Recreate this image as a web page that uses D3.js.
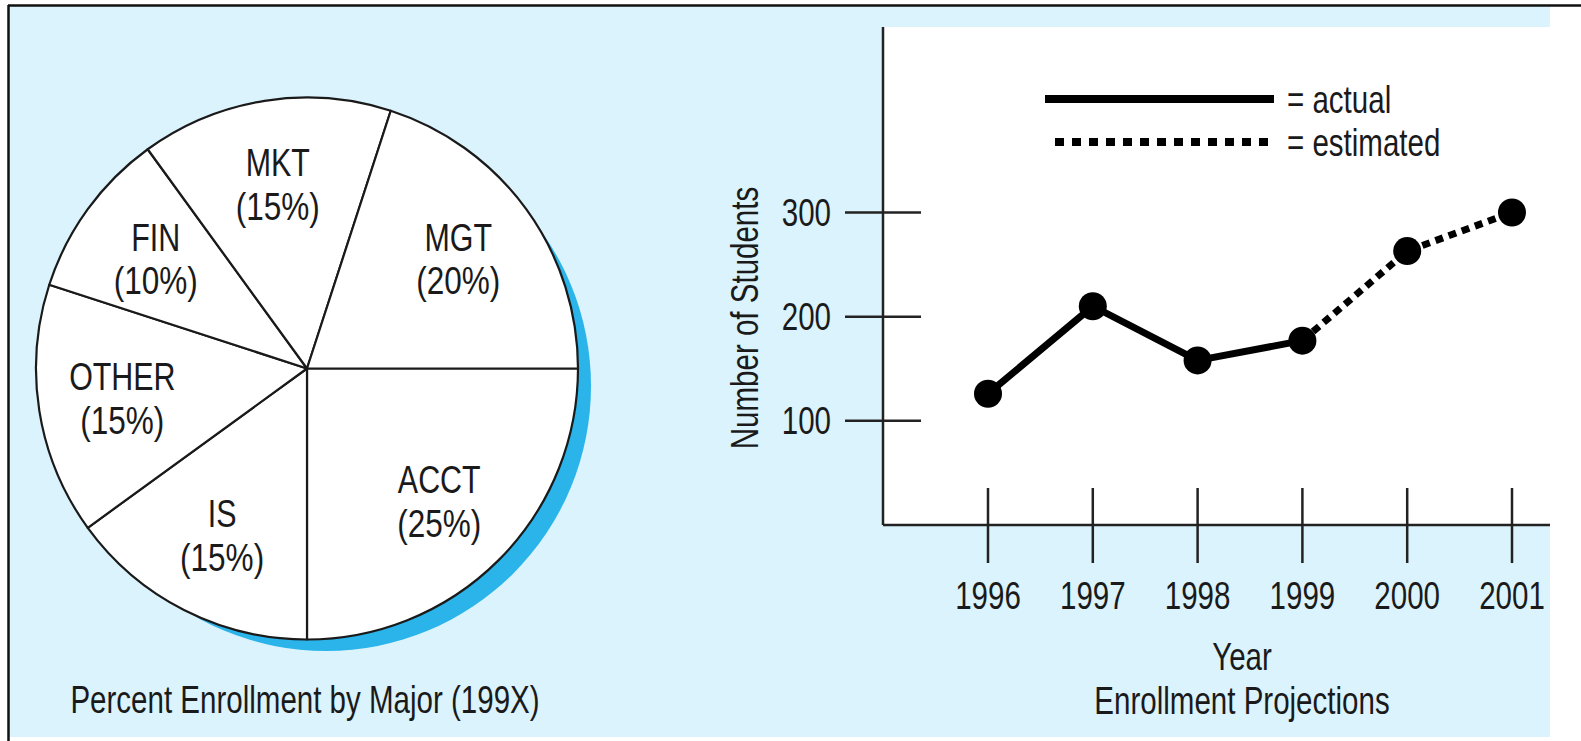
<!DOCTYPE html>
<html>
<head>
<meta charset="utf-8">
<script src="https://cdn.jsdelivr.net/npm/d3@7"></script>
<style>
  html, body { margin: 0; padding: 0; background: #fff; }
  svg text {
    font-family: "Liberation Sans", Arial, sans-serif;
    font-size: 39px;
    fill: #1a1a1a;
  }
  svg text.plabel { font-size: 38px; }
</style>
</head>
<body>
<div id="chart"></div>
<script>
// pie data
var majors = ["ACCT", "IS", "OTHER", "FIN", "MKT", "MGT"];
var shares = [25, 15, 15, 10, 15, 20];

// line chart data
var years = [1996, 1997, 1998, 1999, 2000, 2001];
var students = [126, 210, 158, 177, 263, 300];
var lastActualYear = 1999;
var yTicks = [100, 200, 300];

var width = 1581, height = 741;
var narrow = 0.757; // condensed look: squeeze Liberation Sans horizontally

var svg = d3.select("#chart").append("svg")
  .attr("width", width)
  .attr("height", height);

// places a condensed text whose anchor point is (x, y)
function label(parent, x, y, txt, anchor, rot, sx) {
  return parent.append("text")
    .attr("transform", "translate(" + x + "," + y + ")" + (rot ? "rotate(" + rot + ")" : "") + "scale(" + (sx || narrow) + ",1)")
    .attr("dy", "0.35em")
    .attr("text-anchor", anchor || "middle")
    .text(txt);
}

// background panel + frame
svg.append("rect")
  .attr("x", 9).attr("y", 6)
  .attr("width", 1541).attr("height", 731)
  .attr("fill", "#dbf3fc");

svg.append("line")
  .attr("x1", 8).attr("x2", width)
  .attr("y1", 5.5).attr("y2", 5.5)
  .attr("stroke", "#111").attr("stroke-width", 2.5);
svg.append("line")
  .attr("x1", 8.5).attr("x2", 8.5)
  .attr("y1", 5).attr("y2", height)
  .attr("stroke", "#111").attr("stroke-width", 2.5);

// ---------- pie ----------
var cx = 307, cy = 368.5, R = 271;

var pie = d3.pie()
  .sort(null)
  .startAngle(Math.PI / 2)
  .endAngle(Math.PI / 2 + 2 * Math.PI);

var arc = d3.arc().innerRadius(0).outerRadius(R);
var labelArc = d3.arc().innerRadius(R * 0.69).outerRadius(R * 0.69);

var pieG = svg.append("g")
  .attr("transform", "translate(" + cx + "," + cy + ")");

// blue crescent shadow
pieG.append("circle")
  .attr("cx", 19).attr("cy", 17.5)
  .attr("r", R - 6)
  .attr("fill", "#2ab4ea");

var slices = pie(shares);

pieG.selectAll(".slice")
  .data(slices)
  .enter().append("path")
  .attr("class", "slice")
  .attr("d", arc)
  .attr("fill", "#fff")
  .attr("stroke", "#1a1a1a")
  .attr("stroke-width", 2.2)
  .attr("stroke-linejoin", "round");

slices.forEach(function (d, i) {
  var c = labelArc.centroid(d);
  label(pieG, c[0], c[1] - 21, majors[i], "middle", 0, 0.8).attr("class", "plabel");
  label(pieG, c[0], c[1] + 22.5, "(" + shares[i] + "%)", "middle", 0, 0.83).attr("class", "plabel");
});

label(svg, 305, 699, "Percent Enrollment by Major (199X)");

// ---------- line chart ----------
var axisX = 883, axisY = 525, plotTop = 27, plotRight = 1550;

var xScale = d3.scaleLinear()
  .domain([1996, 2001])
  .range([988, 1512]);

var yScale = d3.scaleLinear()
  .domain([0, 300])
  .range([axisY, 212.5]);

// white plot area
svg.append("rect")
  .attr("x", axisX).attr("y", plotTop)
  .attr("width", plotRight - axisX).attr("height", axisY - plotTop)
  .attr("fill", "#fff");

// axes
svg.append("line")
  .attr("x1", axisX).attr("x2", axisX)
  .attr("y1", plotTop).attr("y2", axisY)
  .attr("stroke", "#222").attr("stroke-width", 2.5);
svg.append("line")
  .attr("x1", axisX).attr("x2", plotRight)
  .attr("y1", axisY).attr("y2", axisY)
  .attr("stroke", "#222").attr("stroke-width", 2.5);

svg.selectAll(".ytick")
  .data(yTicks)
  .enter().append("line")
  .attr("class", "ytick")
  .attr("x1", axisX - 38).attr("x2", axisX + 38)
  .attr("y1", function (d) { return yScale(d); })
  .attr("y2", function (d) { return yScale(d); })
  .attr("stroke", "#222").attr("stroke-width", 2.5);

yTicks.forEach(function (t) {
  label(svg, 831, yScale(t), t, "end");
});

svg.selectAll(".xtick")
  .data(years)
  .enter().append("line")
  .attr("class", "xtick")
  .attr("x1", function (d) { return xScale(d); })
  .attr("x2", function (d) { return xScale(d); })
  .attr("y1", axisY - 37).attr("y2", axisY + 38)
  .attr("stroke", "#222").attr("stroke-width", 2.5);

years.forEach(function (yr) {
  label(svg, xScale(yr), 595, yr);
});

label(svg, 744, 318, "Number of Students", "middle", -90);
label(svg, 1242, 656, "Year");
label(svg, 1242, 700, "Enrollment Projections");

// series
var points = years.map(function (y, i) { return { year: y, value: students[i] }; });
var actual = points.filter(function (d) { return d.year <= lastActualYear; });
var estimated = points.filter(function (d) { return d.year >= lastActualYear; });

var line = d3.line()
  .x(function (d) { return xScale(d.year); })
  .y(function (d) { return yScale(d.value); });

svg.append("path")
  .datum(actual)
  .attr("d", line)
  .attr("fill", "none")
  .attr("stroke", "#000")
  .attr("stroke-width", 7)
  .attr("stroke-linejoin", "round");

svg.append("path")
  .datum(estimated)
  .attr("d", line)
  .attr("fill", "none")
  .attr("stroke", "#000")
  .attr("stroke-width", 7)
  .attr("stroke-dasharray", "8,6");

svg.selectAll(".dot")
  .data(points)
  .enter().append("circle")
  .attr("class", "dot")
  .attr("cx", function (d) { return xScale(d.year); })
  .attr("cy", function (d) { return yScale(d.value); })
  .attr("r", 14)
  .attr("fill", "#000");

// legend
svg.append("line")
  .attr("x1", 1045).attr("x2", 1274)
  .attr("y1", 99).attr("y2", 99)
  .attr("stroke", "#000").attr("stroke-width", 8);
svg.append("line")
  .attr("x1", 1055).attr("x2", 1272)
  .attr("y1", 142).attr("y2", 142)
  .attr("stroke", "#000").attr("stroke-width", 8)
  .attr("stroke-dasharray", "9,8");

label(svg, 1287, 99, "= actual", "start");
label(svg, 1287, 142, "= estimated", "start");
</script>
</body>
</html>
